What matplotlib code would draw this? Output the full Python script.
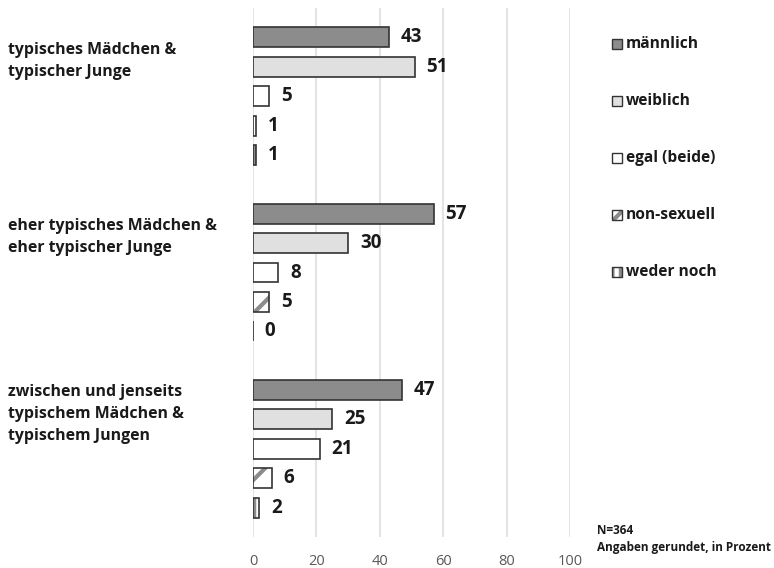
import matplotlib
matplotlib.use("Agg")
import matplotlib.pyplot as plt
from matplotlib.patches import Rectangle

plt.rcParams['font.family'] = ['Open Sans', 'DejaVu Sans']
plt.rcParams['hatch.linewidth'] = 3.0

categories = ["typisches Mädchen &\ntypischer Junge",
              "eher typisches Mädchen &\neher typischer Junge",
              "zwischen und jenseits\ntypischem Mädchen &\ntypischem Jungen"]
series = ["männlich", "weiblich", "egal (beide)", "non-sexuell", "weder noch"]
values = {
    "männlich": [43, 57, 47],
    "weiblich": [51, 30, 25],
    "egal (beide)": [5, 8, 21],
    "non-sexuell": [1, 5, 6],
    "weder noch": [1, 0, 2],
}
xticks = [0, 20, 40, 60, 80, 100]

styles = {
    "männlich": dict(fc="#8c8c8c", hatch=None),
    "weiblich": dict(fc="#e0e0e0", hatch=None),
    "egal (beide)": dict(fc="#ffffff", hatch=None),
    "non-sexuell": dict(fc="#ffffff", hatch="/"),
    "weder noch": dict(fc="#ffffff", hatch="||"),
}
edge = "#333333"
hatchc = "#8c8c8c"

fig = plt.figure(figsize=(7.74, 5.68), dpi=100)
ax = fig.add_axes([253/774, 1-537/568, (570-253)/774, 529/568])
ax.set_xlim(0, 100)
ax.set_ylim(18, 0)

bh = 0.68
for g, cat in enumerate(categories):
    center = g*6 + 3
    for i, s in enumerate(series):
        y = center + (i - 2)
        v = values[s][g]
        st = styles[s]
        if st["hatch"]:
            ax.barh(y, v, height=bh, color=st["fc"], edgecolor=hatchc, hatch=st["hatch"], linewidth=0, zorder=3)
            ax.barh(y, v, height=bh, fill=False, edgecolor=edge, linewidth=1.2, zorder=4)
        else:
            ax.barh(y, v, height=bh, color=st["fc"], edgecolor=edge, linewidth=1.2, zorder=3)
        ax.annotate(str(v), (v, y), xytext=(8.5, 0), textcoords="offset points",
                    ha="left", va="center", fontsize=13.5, fontweight="bold", color="#1a1a1a")
    ax.text(-0.773, center - 1.2, cat, transform=ax.get_yaxis_transform(),
            ha="left", va="center", fontsize=11.4, fontweight="bold", color="#1a1a1a",
            linespacing=1.5)

ax.set_xticks(xticks)
ax.set_xticklabels([str(t) for t in xticks], fontsize=10.5, color="#595959")
ax.set_yticks([])
ax.tick_params(axis="x", length=0, pad=12)
ax.grid(axis="x", color="#dcdcdc", linewidth=1.1, zorder=0)
for sp in ax.spines.values():
    sp.set_visible(False)

# legend
leg_y = [44, 101, 158, 215, 272]
for s, ypix in zip(series, leg_y):
    st = styles[s]
    x0 = 612/774
    y0 = 1 - (ypix + 5)/568
    w = 10/774
    h = 10/568
    if st["hatch"]:
        fig.patches.append(Rectangle((x0, y0), w, h, transform=fig.transFigure,
                                     facecolor=st["fc"], edgecolor=hatchc, hatch=st["hatch"], linewidth=0))
        fig.patches.append(Rectangle((x0, y0), w, h, transform=fig.transFigure,
                                     fill=False, edgecolor=edge, linewidth=1.0))
    else:
        fig.patches.append(Rectangle((x0, y0), w, h, transform=fig.transFigure,
                                     facecolor=st["fc"], edgecolor=edge, linewidth=1.0))
    fig.text(626/774, 1 - ypix/568, s, ha="left", va="center", fontsize=11.2,
             fontweight="bold", color="#1a1a1a")

fig.text(597/774, 1 - 531/568, "N=364", ha="left", va="center", fontsize=8.5, fontweight="bold", color="#1a1a1a")
fig.text(597/774, 1 - 548/568, "Angaben gerundet, in Prozent", ha="left", va="center", fontsize=8.5,
         fontweight="bold", color="#1a1a1a")

fig.savefig("out.png", dpi=100)
